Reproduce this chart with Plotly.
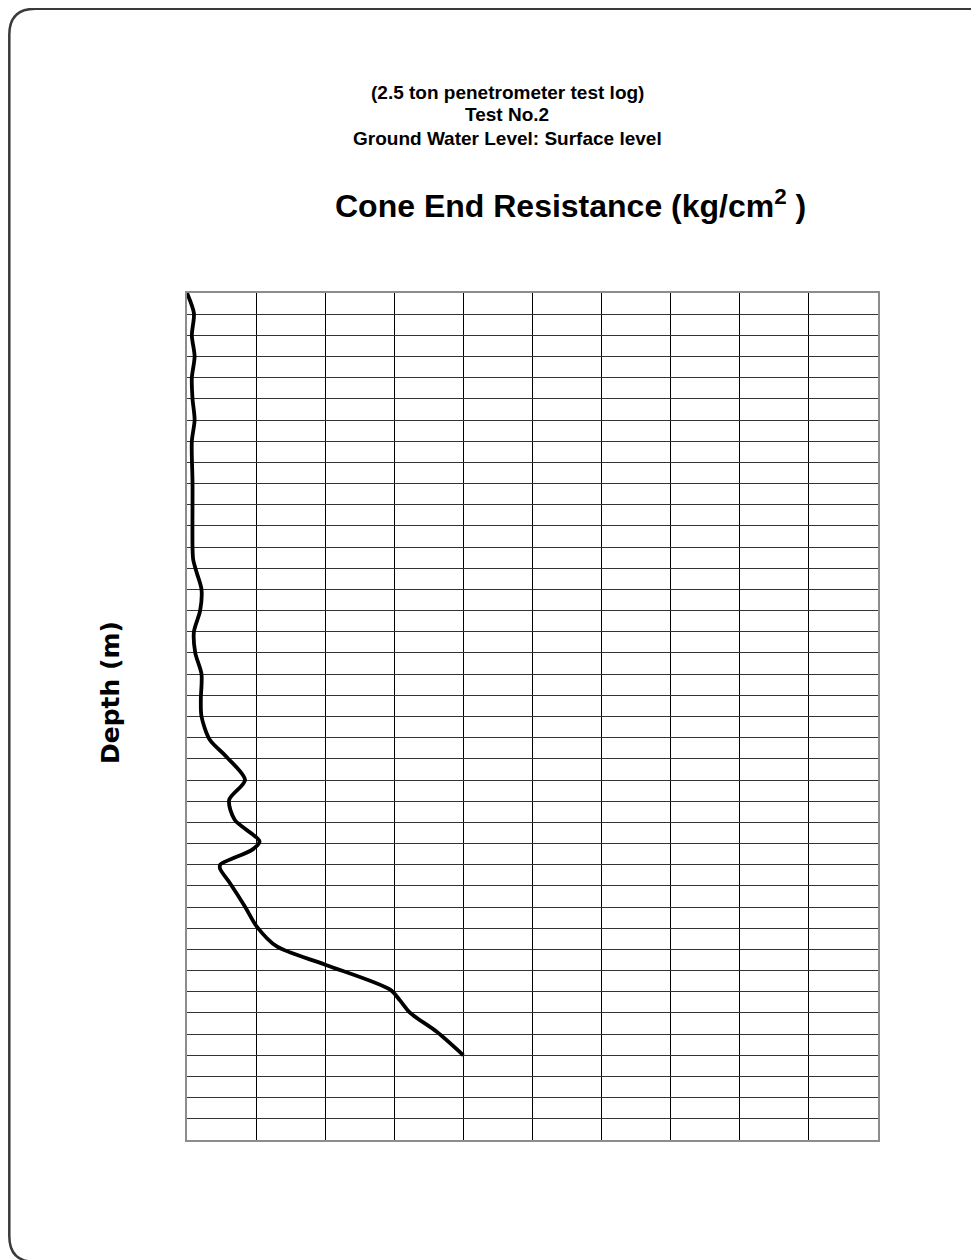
import plotly.graph_objects as go

# Cone end resistance (kg/cm2) vs depth (m)
depth_m = [0, 0.48, 1.0, 1.5, 2.0, 2.5, 3.0, 3.5, 4.5, 6.0, 6.3, 6.6, 7.0, 7.5, 8.0, 8.5,
           9.0, 9.6, 10.0, 10.55, 10.95, 11.5, 11.97, 12.44, 12.95, 13.15, 13.5, 13.6,
           13.93, 14.49, 14.96, 15.43, 15.86, 16.45, 16.7, 17.0, 17.44, 18.0]
resistance = [0, 1.0, 0.7, 1.1, 0.7, 0.8, 1.1, 0.7, 0.8, 0.8, 0.9, 1.4, 2.1, 1.9, 1.0, 1.2,
              2.1, 2.0, 2.1, 3.3, 5.7, 8.4, 6.1, 6.9, 10.5, 9.4, 4.8, 4.8,
              6.2, 8.4, 10.1, 13.0, 20.0, 29.4, 30.8, 32.3, 36.1, 40.0]

title_lines = ["(2.5 ton penetrometer test log)", "Test No.2", "Ground Water Level: Surface level"]
x_title = "Cone End Resistance (kg/cm<sup>2</sup> )"
y_title = "Depth (m)"

# page body margin offsets the figure by 8px; positions below are in figure pixels
OFF = 8
W, H = 979, 1260
L, R, T, B = 187 - OFF, 878 - OFF, 293 - OFF, 1140 - OFF

fig = go.Figure()
fig.add_trace(go.Scatter(x=resistance, y=depth_m, mode="lines",
                         line=dict(color="black", width=3.8, shape="spline", smoothing=0.8),
                         hoverinfo="skip", showlegend=False))

def px2x(px):
    return (px - OFF - L) / (R - L)

def py2y(py):
    return (B - (py - OFF)) / (B - T)

# rounded outer frame
x0, x1 = px2x(9.3), px2x(995)
y0, y1 = py2y(1262), py2y(8.8)
rx, ry = 26 / (R - L), 26 / (B - T)
path = (f"M {x0+rx},{y1} L {x1-rx},{y1} Q {x1},{y1} {x1},{y1-ry} "
        f"L {x1},{y0+ry} Q {x1},{y0} {x1-rx},{y0} "
        f"L {x0+rx},{y0} Q {x0},{y0} {x0},{y0+ry} "
        f"L {x0},{y1-ry} Q {x0},{y1} {x0+rx},{y1} Z")
fig.add_shape(type="path", path=path, xref="paper", yref="paper",
              line=dict(color="#3a3a3a", width=2.5), layer="below")

ann_y = [92, 114, 138]
for txt, yy in zip(title_lines, ann_y):
    fig.add_annotation(text=f"<b>{txt}</b>", x=px2x(507), y=py2y(yy), xref="paper", yref="paper",
                       showarrow=False, xanchor="center", yanchor="middle",
                       font=dict(family="Liberation Sans", size=19, color="black"))
fig.add_annotation(text=f"<b>{x_title}</b>", x=px2x(570), y=py2y(204), xref="paper", yref="paper",
                   showarrow=False, xanchor="center", yanchor="middle",
                   font=dict(family="Liberation Sans", size=32, color="black"))
fig.add_annotation(text=f"<b>{y_title}</b>", x=px2x(110), y=py2y(693), xref="paper", yref="paper",
                   showarrow=False, xanchor="center", yanchor="middle", textangle=-90,
                   font=dict(family="DejaVu Sans", size=25, color="black"))

fig.update_layout(
    width=W, height=H,
    margin=dict(l=L, r=W - R, t=T, b=H - B, pad=0),
    paper_bgcolor="white", plot_bgcolor="white",
    xaxis=dict(range=[0, 100], dtick=10, tick0=0, showgrid=True, gridcolor="black", gridwidth=1,
               showticklabels=False, ticks="", zeroline=False,
               showline=True, mirror=True, linecolor="#8c8c8c", linewidth=2, fixedrange=True),
    yaxis=dict(range=[20, 0], dtick=0.5, tick0=0, showgrid=True, gridcolor="#333333", gridwidth=1,
               showticklabels=False, ticks="", zeroline=False,
               showline=True, mirror=True, linecolor="#8c8c8c", linewidth=2, fixedrange=True),
    showlegend=False,
)

fig.write_html("out.html", config={"displayModeBar": False})
